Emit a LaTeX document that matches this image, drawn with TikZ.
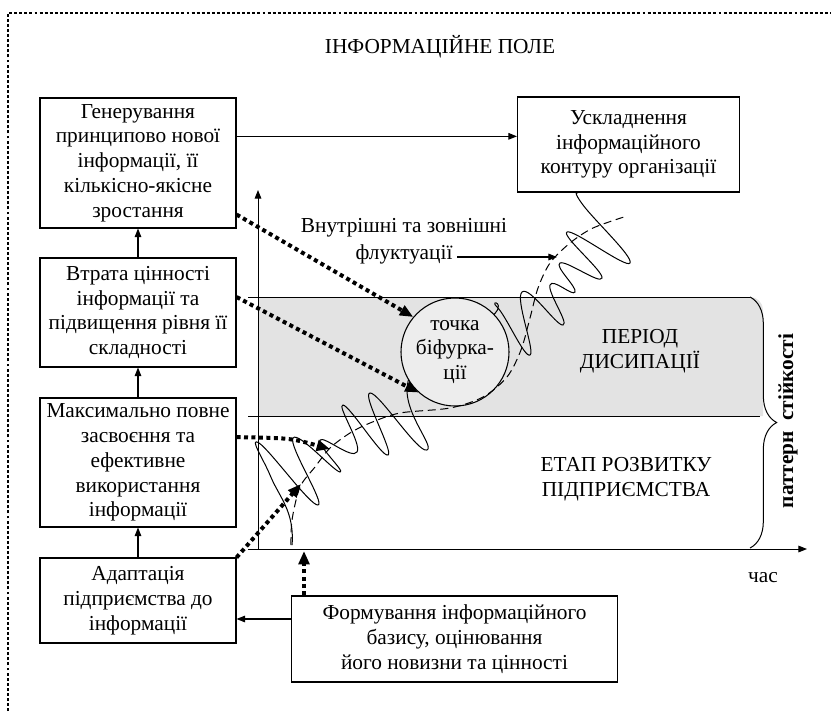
\documentclass[tikz,border=0pt]{standalone}
\usepackage{fontspec}
\setmainfont{Liberation Serif}
\usepackage{tikz}
\usetikzlibrary{arrows.meta, decorations.pathreplacing, calc}

\begin{document}
\begin{tikzpicture}
    [x=0.75pt, y=0.75pt,
     font=\fontsize{16}{18.6}\selectfont,
     box/.style={rectangle,draw,line width=0.8pt,align=center,inner sep=2pt},
     arr/.style={-{Triangle[length=6.5pt,width=5pt]},line width=0.8pt},
     dotarr/.style={line width=3pt,dash pattern=on 3pt off 2.6pt,
                    -{Triangle[length=10pt,width=8pt]}},
     frame/.style={line width=2.2pt,dash pattern=on 2.2pt off 1.6pt},
     band/.style={fill=black!11}]
    \useasboundingbox (0,0) rectangle (831,-711);
    \draw [frame] (8,-711) -- (8,-13) -- (831,-13);
    \node (title) at (440,-47) {ІНФОРМАЦІЙНЕ ПОЛЕ};

    \node (gen) at (138,-163) [box, minimum width=147pt, minimum height=97.5pt]
          {Генерування\\принципово нової\\інформації, її\\кількісно-якісне\\зростання};
    \node (loss) at (138,-312.5) [box, minimum width=147pt, minimum height=81.75pt]
          {Втрата цінності\\інформації та\\підвищення рівня її\\складності};
    \node (maxuse) at (138,-462.5) [box, minimum width=147pt, minimum height=96.75pt]
          {Максимально повне\\засвоєння та\\ефективне\\використання\\інформації};
    \node (adapt) at (138,-600.5) [box, minimum width=147pt, minimum height=63.75pt]
          {Адаптація\\підприємства до\\інформації};
    \node (complex) at (628.5,-144.5) [box, minimum width=166.5pt, minimum height=71.25pt]
          {Ускладнення\\інформаційного\\контуру організації};
    \node (form) at (454.5,-639) [box, minimum width=245pt, minimum height=64.5pt]
          {Формування інформаційного\\базису, оцінювання\\його новизни та цінності};

    \draw [arr] (adapt) -- (maxuse);
    \draw [arr] (maxuse) -- (loss);
    \draw [arr] (loss) -- (gen);
    \coordinate (g1) at ([yshift=20pt]gen.east);
    \draw [arr] (g1) -- (g1 -| complex.west);
    \coordinate (f1) at ([yshift=15pt]form.west);
    \draw [arr] (f1) -- (f1 -| adapt.east);

    \fill [band] (258,-297) -- (750,-297) to[out=0,in=90] (763,-310)
                 -- (763,-416) -- (258,-416) -- cycle;
    \coordinate (O) at (258,-549);
    \coordinate (ytop) at (258,-190);
    \coordinate (xend) at (807,-549);
    \draw [arr, line width=0.75pt] (O) -- (ytop);
    \draw [arr, line width=0.75pt] (248,-549) -- (xend);
    \draw [line width=0.75pt] (248,-297) -- (750,-297);
    \draw [line width=0.75pt] (248,-416) -- (760,-416);
    \draw [line width=0.75pt, decorate, decoration={brace,amplitude=20pt}]
          (750,-297) -- (750,-548);

    \draw [line width=0.75pt] plot[smooth, tension=0.8] coordinates {
          (292,-545) (289,-515) (270,-475) (259,-443) (318,-505) (293,-438)
          (340,-472) (320,-440) (357,-452) (343,-405) (388,-455) (370,-393)
          (427,-450) (410,-376) (490,-318) (497,-307) (530,-355) (522,-292)
          (563,-325) (550,-285) (575,-292) (560,-263) (602,-278) (567,-232)
          (630,-263) (583,-205) (578,-193)};

    \node (bif) at (455,-352) [circle, draw, line width=0.8pt, fill=black!7,
          minimum size=81pt, inner sep=0pt, align=center]
          {точка\\біфурка-\\ції};

    \draw [line width=0.75pt, dash pattern=on 6pt off 3.5pt] plot[smooth] coordinates {
          (291,-545) (292,-520) (300,-487) (315,-467) (330,-448) (350,-433)
          (370,-423) (400,-413) (450,-408) (483,-397) (507,-377) (521,-350)
          (530,-318) (538,-288) (550,-263) (570,-243) (593,-228) (627,-216)};

    \coordinate (t3) at (330,-449);
    \coordinate (t4) at (301,-484);
    \coordinate (t5) at (304,-551);
    \draw [dotarr] ([yshift=10.5pt]gen.south east) -- (bif.140);
    \draw [dotarr] ([yshift=11.6pt]loss.east) -- (bif.228);
    \draw [dotarr] ([yshift=19pt]maxuse.east) .. controls (290,-438) .. (t3);
    \draw [dotarr] (adapt.north east) -- (t4);
    \draw [dotarr] (form.north -| t5) -- (t5);

    \node (fl1) at (404,-228) {Внутрішні та зовнішні};
    \node (fl2) at (404,-254) {флуктуації};
    \coordinate (flend) at (557,-257);
    \draw [arr] (fl2.east |- flend) -- (flend);

    \node (diss) at (640,-351) [align=center] {ПЕРІОД\\ДИСИПАЦІЇ};
    \node (stage) at (626,-479) [align=center] {ЕТАП РОЗВИТКУ\\ПІДПРИЄМСТВА};
    \node (time) at (763,-578) {час};
    \node (pattern) at (788,-421) [rotate=90, font=\fontsize{16}{18}\selectfont\bfseries]
          {паттерн~~стійкості};
\end{tikzpicture}
\end{document}
